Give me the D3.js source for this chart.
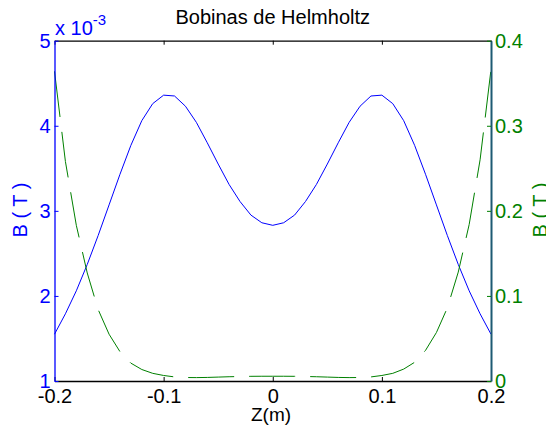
<!DOCTYPE html>
<html>
<head>
<meta charset="utf-8">
<script src="https://cdn.jsdelivr.net/npm/d3@7"></script>
<style>
body { margin: 0; background: #fff; }
svg { display: block; font-family: "Liberation Sans", Arial, Helvetica, sans-serif; }
</style>
</head>
<body>
<svg id="chart" width="546" height="429"></svg>
<script>
// posiciones sobre el eje (m)
var zPos = [-0.20, -0.19, -0.18, -0.17, -0.16, -0.15, -0.14, -0.13, -0.12, -0.11,
            -0.10, -0.09, -0.08, -0.07, -0.06, -0.05, -0.04, -0.03, -0.02, -0.01,
             0.00,  0.01,  0.02,  0.03,  0.04,  0.05,  0.06,  0.07,  0.08,  0.09,
             0.10,  0.11,  0.12,  0.13,  0.14,  0.15,  0.16,  0.17,  0.18,  0.19, 0.20];

// campo de las dos bobinas, en unidades de 10^-3 T (eje izquierdo)
var bHelmholtz = [1.55, 1.79, 2.06, 2.37, 2.71, 3.07, 3.43, 3.77, 4.06, 4.26,
                  4.36, 4.35, 4.23, 4.04, 3.80, 3.55, 3.31, 3.11, 2.95, 2.86,
                  2.83, 2.86, 2.95, 3.11, 3.31, 3.55, 3.80, 4.04, 4.23, 4.35,
                  4.36, 4.26, 4.06, 3.77, 3.43, 3.07, 2.71, 2.37, 2.06, 1.79, 1.55];

// segunda curva (eje derecho, T)
var bRight = [0.364, 0.258, 0.183, 0.127, 0.084, 0.055, 0.0345, 0.021, 0.0135, 0.009,
              0.0065, 0.0048, 0.0041, 0.0040, 0.0042, 0.0046, 0.0050, 0.0053, 0.0055, 0.0056,
              0.0056, 0.0056, 0.0055, 0.0053, 0.0050, 0.0046, 0.0042, 0.0040, 0.0041, 0.0048,
              0.0065, 0.009, 0.0140, 0.022, 0.036, 0.057, 0.086, 0.128, 0.184, 0.260, 0.366];

var xTicks = [-0.2, -0.1, 0, 0.1, 0.2];
var xTickLabels = ["-0.2", "-0.1", "0", "0.1", "0.2"];
var yLeftTicks = [1, 2, 3, 4, 5];
var yLeftTickLabels = ["1", "2", "3", "4", "5"];
var yRightTicks = [0, 0.1, 0.2, 0.3, 0.4];
var yRightTickLabels = ["0", "0.1", "0.2", "0.3", "0.4"];

var blue = "#0000ff", green = "#008000", edge = "#1d5a73";

var canvas = d3.select("#chart"),
    margins = {"left": 54.5, "right": 55, "top": 40.7, "bottom": 48},
    width = 546,
    height = 429;

var x = d3.scaleLinear().domain([-0.2, 0.2]).range([margins.left, width - margins.right]),
    yL = d3.scaleLinear().domain([1, 5]).range([height - margins.bottom, margins.top]),
    yR = d3.scaleLinear().domain([0, 0.4]).range([height - margins.bottom, margins.top]);

function style_axis(g, color) {
    g.attr("color", color)
        .attr("font-size", 20)
        .attr("font-family", "'Liberation Sans', Arial, Helvetica, sans-serif");
    g.selectAll(".tick line").attr("stroke-width", 1);
}

// curvas
var line = d3.line().x((d, i) => x(zPos[i]));

canvas.append("path")
    .datum(bHelmholtz)
    .attr("fill", "none")
    .attr("stroke", blue)
    .attr("stroke-width", 1)
    .attr("d", line.y(d => yL(d)));

canvas.append("path")
    .datum(bRight)
    .attr("fill", "none")
    .attr("stroke", green)
    .attr("stroke-width", 1)
    .attr("stroke-dasharray", "46,15")
    .attr("d", line.y(d => yR(d)));

// ejes
canvas.append("g")
    .attr("transform", "translate(" + [0, yL.range()[0]] + ")")
    .call(d3.axisBottom(x).tickValues(xTicks).tickFormat((d, i) => xTickLabels[i])
        .tickSizeInner(-4).tickSizeOuter(0).tickPadding(8))
    .call(g => style_axis(g, "#000"))
    .call(g => g.select(".domain").attr("stroke-width", 1.6));

canvas.append("g")
    .attr("transform", "translate(" + [0, margins.top] + ")")
    .call(d3.axisTop(x).tickValues(xTicks).tickFormat("")
        .tickSizeInner(-4).tickSizeOuter(0))
    .call(g => style_axis(g, "#000"))
    .call(g => g.select(".domain").attr("stroke-width", 1.3));

canvas.append("g")
    .attr("transform", "translate(" + [margins.left, 0] + ")")
    .call(d3.axisLeft(yL).tickValues(yLeftTicks).tickFormat((d, i) => yLeftTickLabels[i])
        .tickSizeInner(-4).tickSizeOuter(0).tickPadding(4))
    .call(g => style_axis(g, blue))
    .call(g => g.select(".domain").attr("stroke-width", 1.3));

canvas.append("g")
    .attr("transform", "translate(" + [width - margins.right, 0] + ")")
    .call(d3.axisRight(yR).tickValues(yRightTicks).tickFormat((d, i) => yRightTickLabels[i])
        .tickSizeInner(-4).tickSizeOuter(0).tickPadding(4))
    .call(g => style_axis(g, green))
    .call(g => g.select(".domain").attr("stroke", edge).attr("stroke-width", 2));

// textos
canvas.append("text")
    .attr("x", (x.range()[0] + x.range()[1]) / 2).attr("y", 24)
    .attr("text-anchor", "middle").attr("font-size", 20).attr("fill", "#000")
    .text("Bobinas de Helmholtz");

canvas.append("text")
    .attr("x", 271).attr("y", 421)
    .attr("text-anchor", "middle").attr("font-size", 19).attr("fill", "#000")
    .text("Z(m)");

canvas.append("text")
    .attr("transform", "translate(27,210) rotate(-90)")
    .attr("text-anchor", "middle").attr("font-size", 20).attr("fill", blue)
    .text("B ( T )");

canvas.append("text")
    .attr("transform", "translate(547,210) rotate(-90)")
    .attr("text-anchor", "middle").attr("font-size", 20).attr("fill", green)
    .text("B ( T )");

var expo = canvas.append("text")
    .attr("x", 55).attr("y", 34.5).attr("font-size", 20).attr("fill", blue);
expo.append("tspan").text("x 10");
expo.append("tspan").attr("dy", -10).attr("font-size", 15).text("-3");
</script>
</body>
</html>
